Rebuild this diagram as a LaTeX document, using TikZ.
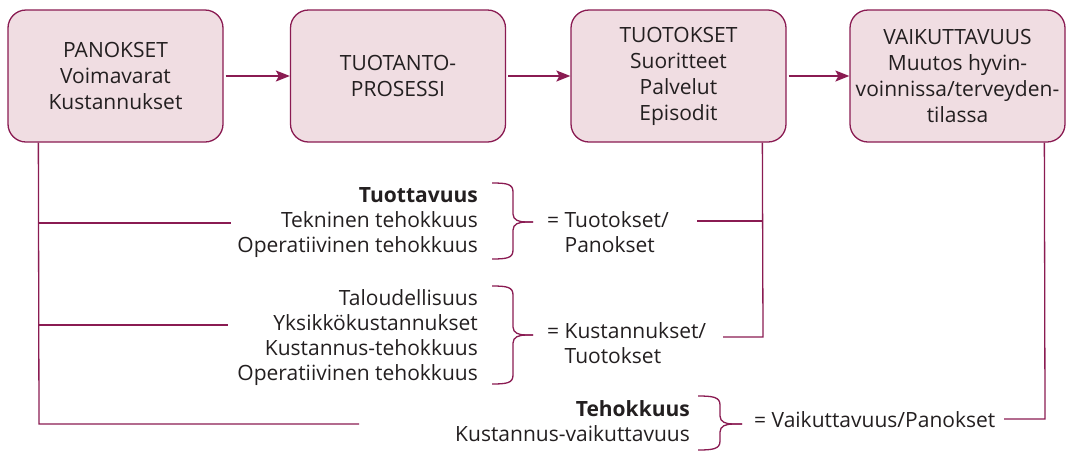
\documentclass[tikz,border=0pt]{standalone}
\usepackage{fontspec}
\setmainfont{Open Sans}
\usetikzlibrary{arrows.meta}
\definecolor{edge}{RGB}{138,27,82}
\definecolor{boxfill}{RGB}{240,221,226}
\definecolor{ink}{RGB}{35,31,32}
\newcommand\drawbrace[6]{%
  \draw[conn] (#1,#4) .. controls (#1+15,#4) and (#2,#4+1) .. (#2,#4+9) -- (#2,#5-8)
     .. controls (#2,#5-2) and (#2+6,#5) .. (#2+13,#5) -- (#3,#5);
  \draw[conn] (#1,#6) .. controls (#1+15,#6) and (#2,#6-1) .. (#2,#6-9) -- (#2,#5+8)
     .. controls (#2,#5+2) and (#2+6,#5) .. (#2+13,#5) -- (#3,#5);
}
\begin{document}
\begin{tikzpicture}[x=1pt,y=-1pt,
  conn/.style={draw=edge,line width=1.3pt},
  arr/.style={conn,-{Stealth[length=14pt,width=11pt,inset=3pt]},shorten <=2pt},
  box/.style={draw=edge,line width=1.3pt,fill=boxfill,rounded corners=18pt,
    minimum width=215pt,minimum height=132pt,align=center,text=ink,
    font=\fontsize{21}{26}\selectfont,inner sep=0pt},
  txt/.style={inner sep=0pt,text=ink,font=\fontsize{21}{25}\selectfont}]
\useasboundingbox (0,0) rectangle (1067,451);
% boxes
\node[box] (b1) at (115.5,76) {PANOKSET\\Voimavarat\\Kustannukset};
\node[box] (b2) at (398,76) {TUOTANTO-\\PROSESSI};
\node[box] (b3) at (678.5,76) {TUOTOKSET\\Suoritteet\\Palvelut\\Episodit};
\node[box] (b4) at (957.5,76) {VAIKUTTAVUUS\\Muutos hyvin-\\voinnissa/terveyden-\\tilassa};
\draw[arr] (b1.east) -- (b2.west);
\draw[arr] (b2.east) -- (b3.west);
\draw[arr] (b3.east) -- (b4.west);
% text groups
\node[txt,anchor=east,align=right] (t1) at (478,222.6)
  {\textbf{Tuottavuus}\\Tekninen tehokkuus\\Operatiivinen tehokkuus};
\node[txt,anchor=east,align=right] (t2) at (478,338)
  {Taloudellisuus\\Yksikkökustannukset\\Kustannus-tehokkuus\\Operatiivinen tehokkuus};
\node[txt,anchor=east,align=right] (t3) at (690,421.3)
  {\textbf{Tehokkuus}\\Kustannus-vaikuttavuus};
\node[txt,anchor=west,align=left] (e1) at (547,232) {= Tuotokset/\\\phantom{= }Panokset};
\node[txt,anchor=west,align=left] (e2) at (547,343.4) {= Kustannukset/\\\phantom{= }Tuotokset};
\node[txt,anchor=base west] (e3) at (754,427) {= Vaikuttavuus/Panokset};
% braces
\drawbrace{492}{513}{533}{183}{222}{259}
\drawbrace{492}{513}{533}{286}{335}{384}
\drawbrace{698}{720}{742}{396}{424}{450}
% left connectors
\path (b1.south west) ++(31,0) coordinate (L0);
\coordinate (L1) at (39,223);  \coordinate (L1e) at (231,223);
\coordinate (L2) at (39,325);  \coordinate (L2e) at (228,325);
\coordinate (L3) at (39,424);  \coordinate (L3e) at (359,424);
\draw[conn] (L0) -- (L3) -- (L3e);
\draw[conn] (L1) -- (L1e);
\draw[conn] (L2) -- (L2e);
% right connectors
\path (b3.south west) ++(192,0) coordinate (R0);
\coordinate (R1) at (763,221); \coordinate (R1s) at (697,221);
\coordinate (R2) at (763,337); \coordinate (R2s) at (723,337);
\draw[conn] (R0) -- (R2) -- (R2s);
\draw[conn] (R1s) -- (R1);
\path (b4.south west) ++(195,0) coordinate (V0);
\coordinate (V1) at (1045,419); \coordinate (V1s) at (1004,419);
\draw[conn] (V0) -- (V1) -- (V1s);
\end{tikzpicture}
\end{document}
